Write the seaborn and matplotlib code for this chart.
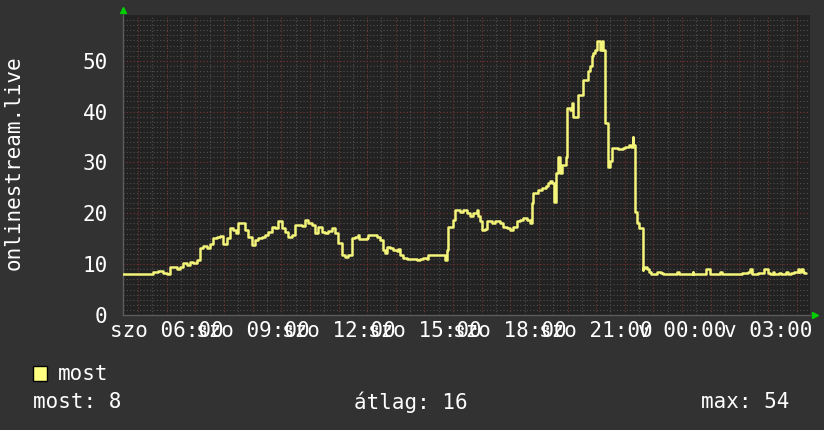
import matplotlib
matplotlib.use("Agg")
import numpy as np
import pandas as pd
import matplotlib.pyplot as plt
import seaborn as sns
from matplotlib import transforms
from matplotlib.patches import Rectangle

# ---- data (hours since Saturday 00:00, viewers) ----
hours = [4.47, 5.52, 5.69, 5.85, 6.01, 6.11, 6.36, 6.46, 6.57, 6.71, 6.81, 6.92, 7.06,
         7.16, 7.27, 7.41, 7.51, 7.62, 7.76, 7.86, 7.97, 8.11, 8.21, 8.32, 8.42, 8.49,
         8.63, 8.74, 8.84, 8.98, 9.09, 9.19, 9.33, 9.44, 9.54, 9.68, 9.78, 9.89, 10.03,
         10.13, 10.24, 10.38, 10.48, 10.59, 10.73, 10.83, 10.94, 11.08, 11.18, 11.29,
         11.43, 11.53, 11.64, 11.78, 11.88, 11.99, 12.13, 12.23, 12.34, 12.48, 12.58,
         12.69, 12.72, 13.00, 13.04, 13.21, 13.35, 13.46, 13.56, 13.63, 13.70, 13.81,
         13.91, 14.05, 14.09, 14.16, 14.26, 14.40, 14.75, 14.85, 14.96, 15.10, 15.13,
         15.73, 15.80, 15.83, 16.01, 16.08, 16.25, 16.36, 16.50, 16.60, 16.71, 16.85,
         16.88, 16.95, 17.02, 17.13, 17.20, 17.37, 17.48, 17.65, 17.76, 17.90, 18.00,
         18.11, 18.25, 18.35, 18.46, 18.60, 18.70, 18.77, 18.81, 18.98, 19.12, 19.23,
         19.33, 19.40, 19.47, 19.51, 19.58, 19.65, 19.68, 19.75, 19.82, 19.93, 19.99,
         20.10, 20.17, 20.20, 20.38, 20.55, 20.73, 20.80, 20.87, 20.90, 20.97, 21.04,
         21.15, 21.22, 21.25, 21.32, 21.43, 21.50, 21.57, 21.78, 21.92, 22.02, 22.13,
         22.20, 22.27, 22.30, 22.37, 22.44, 22.51, 22.62, 22.65, 22.72, 22.79, 22.83,
         22.90, 23.14, 23.25, 23.35, 23.84, 23.91, 24.37, 24.40, 24.82, 24.99, 25.34,
         25.41, 26.11, 26.29, 26.39, 26.46, 26.64, 26.88, 27.02, 27.09, 27.16, 27.20,
         27.37, 27.44, 27.62, 27.69, 27.79, 27.90, 28.04, 28.07, 28.14, 28.21, 28.25,
         28.32]
viewers = [8.0, 8.4, 8.7, 8.3, 8.0, 9.5, 9.0, 9.5, 10.2, 9.8, 10.5, 10.2, 10.8,
           13.1, 13.5, 13.1, 14.0, 15.1, 15.3, 15.5, 14.0, 15.1, 17.1, 16.7, 16.1, 18.0,
           18.0, 16.7, 15.4, 13.8, 14.8, 15.1, 15.4, 15.7, 16.4, 17.4, 17.1, 18.4, 17.1,
           16.4, 15.4, 15.7, 17.7, 17.7, 17.5, 18.6, 18.0, 17.7, 16.1, 17.4,
           16.4, 16.1, 16.6, 17.1, 16.1, 14.1, 11.8, 11.4, 11.8, 15.1, 15.4,
           15.7, 15.0, 15.1, 15.7, 15.7, 15.4, 14.8, 12.8, 12.1, 13.4, 13.1,
           12.8, 12.5, 13.0, 11.8, 11.3, 11.0, 10.9, 11.1, 11.3, 11.1, 11.8,
           10.9, 12.8, 17.4, 18.7, 20.7, 20.3, 20.7, 20.0, 19.4, 20.0, 20.7,
           19.4, 18.4, 16.7, 16.9, 18.4, 18.0, 18.4, 18.0, 17.4, 17.1, 16.7,
           17.4, 18.4, 18.7, 19.0, 18.7, 18.0, 22.0, 24.0, 24.6, 25.0, 25.3,
           25.9, 26.3, 25.9, 22.3, 27.9, 29.9, 31.0, 28.0, 29.5, 31.0, 40.7,
           40.4, 41.7, 39.0, 43.3, 46.3, 47.9, 48.9, 50.9, 51.5, 52.2, 53.8,
           52.2, 53.8, 52.2, 37.7, 29.2, 30.2, 32.8, 32.6, 32.8, 33.0, 33.5,
           33.0, 35.1, 33.5, 20.3, 18.0, 17.1, 8.9, 9.2, 9.5, 9.0, 8.5,
           8.0, 8.4, 8.2, 8.0, 8.5, 8.0, 8.5, 8.0, 9.0, 8.0, 8.5,
           8.0, 8.3, 8.5, 9.0, 8.0, 8.2, 9.0, 8.2, 8.0, 8.5, 8.0,
           8.3, 8.0, 8.5, 8.0, 8.2, 8.5, 9.0, 8.5, 9.1, 8.5, 8.2,
           8.2]

tick_hours = [6, 9, 12, 15, 18, 21, 24, 27]
tick_labels = ["szo 06:00", "szo 09:00", "szo 12:00", "szo 15:00",
               "szo 18:00", "szo 21:00", "v 00:00", "v 03:00"]
y_ticks = [0, 10, 20, 30, 40, 50]
x_range = [4.47, 28.47]
y_range = [0, 59]
series_name = "most"
ylabel = "onlinestream.live"
stat_now = 8
stat_avg = 16
stat_max = 54

# ---- style ----
BG = "#323232"
PLOT_BG = "#222222"
LINE = "#f4f47a"
MINOR = "#505050"
MAJOR = "#7a3434"

sns.set_style("dark")
plt.rcParams["font.family"] = ["DejaVu Sans Mono", "DejaVu Sans"]
plt.rcParams["text.color"] = "white"

fig = plt.figure(figsize=(8.24, 4.30), dpi=100, facecolor=BG)
ax = fig.add_axes([123 / 824, 1 - 315 / 430, (810 - 123) / 824, 300 / 430])
ax.set_facecolor(PLOT_BG)

ax.set_xlim(*x_range)
ax.set_ylim(*y_range)

# grid
for yv in np.arange(1, 59, 1):
    major = yv % 10 == 0
    ax.axhline(yv, color=MAJOR if major else MINOR, lw=0.8,
               ls=(0, (1, 2)), zorder=1)
for xv in np.arange(5.0, 28.5, 0.5):
    major = float(xv).is_integer()
    ax.axvline(xv, color=MAJOR if major else MINOR, lw=0.8,
               ls=(0, (1, 2)), zorder=1)

df = pd.DataFrame({"hour": hours, "viewers": viewers})
sns.lineplot(data=df, x="hour", y="viewers", ax=ax, color=LINE, lw=1.8,
             drawstyle="steps-post", zorder=3, legend=False)

ax.set_xticks(tick_hours)
ax.set_xticklabels(tick_labels)
ax.set_yticks(y_ticks)
ax.tick_params(axis="both", length=0, labelsize=15, colors="white")
ax.tick_params(axis="y", pad=11)
ax.tick_params(axis="x", pad=4)
ax.set_xlabel("")
ax.set_ylabel("")
ax.grid(False)

for side in ["top", "right"]:
    ax.spines[side].set_visible(False)
for side in ["left", "bottom"]:
    ax.spines[side].set_color("#5c5c5c")
    ax.spines[side].set_linewidth(1.0)

# axis arrows
t_up = transforms.offset_copy(ax.transAxes, fig=fig, x=0, y=5, units="dots")
ax.plot([0], [1], marker="^", color="#00d000", markersize=5, transform=t_up,
        clip_on=False, zorder=5)
t_rt = transforms.offset_copy(ax.transAxes, fig=fig, x=5, y=0, units="dots")
ax.plot([1], [0], marker=">", color="#00d000", markersize=5, transform=t_rt,
        clip_on=False, zorder=5)

# y label
fig.text(14 / 824, 1 - 163 / 430, ylabel, rotation=90, ha="center", va="center",
         fontsize=15, color="white")

# legend
fig.patches.append(Rectangle((33 / 824, 1 - 381 / 430), 14 / 824, 15 / 430,
                             transform=fig.transFigure, facecolor="#ffff80",
                             edgecolor="black", lw=1.0))
fig.text(58 / 824, 1 - 374 / 430, series_name, ha="left", va="center",
         fontsize=15, color="white")
fig.text(33 / 824, 1 - 402 / 430, f"most: {stat_now}", ha="left", va="center",
         fontsize=15, color="white")
fig.text(354 / 824, 1 - 402 / 430, f"átlag: {stat_avg}", ha="left", va="center",
         fontsize=15, color="white")
fig.text(701 / 824, 1 - 402 / 430, f"max: {stat_max}", ha="left", va="center",
         fontsize=15, color="white")

fig.savefig("out.png", dpi=100, facecolor=BG)
